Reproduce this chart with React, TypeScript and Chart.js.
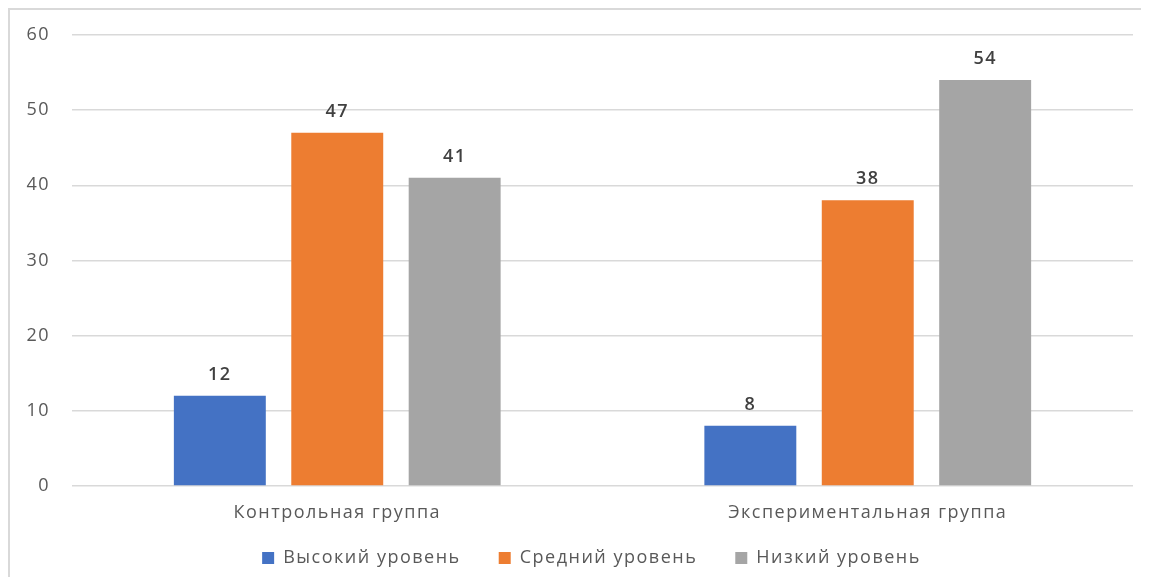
import React, { useEffect, useRef } from "react";
import { Chart, registerables } from "chart.js";

Chart.register(...registerables);

const groups = ["Контрольная группа", "Экспериментальная группа"];
const seriesNames = ["Высокий уровень", "Средний уровень", "Низкий уровень"];
const highLevel = [12, 8];
const midLevel = [47, 38];
const lowLevel = [41, 54];
const seriesColors = ["#4472C4", "#ED7D31", "#A5A5A5"];
const yTicks = [0, 10, 20, 30, 40, 50, 60];

const FONT = "'Open Sans', 'Liberation Sans', sans-serif";
const SPACING = "1.5px";

// Loose tracking for all chart text
const tracking = {
  id: "tracking",
  beforeInit(chart: any) {
    chart.ctx.letterSpacing = SPACING;
  },
  beforeUpdate(chart: any) {
    chart.ctx.letterSpacing = SPACING;
  },
  beforeDraw(chart: any) {
    chart.ctx.letterSpacing = SPACING;
  },
};

// Pulls the legend row up close under the category labels and nudges it right
const legendPlacement = {
  id: "legendPlacement",
  afterLayout(chart: any) {
    const lg = chart.legend;
    if (!lg) return;
    const h = lg.bottom - lg.top;
    lg.top = chart.chartArea.bottom + 25;
    lg.bottom = lg.top + h;
    lg.left += 20;
    lg.right += 20;
  },
};

// Writes each bar's value centred above it
const valueLabels = {
  id: "valueLabels",
  afterDatasetsDraw(chart: any) {
    const ctx = chart.ctx;
    ctx.save();
    ctx.letterSpacing = SPACING;
    ctx.font = `600 18px ${FONT}`;
    ctx.fillStyle = "#404040";
    ctx.textAlign = "center";
    ctx.textBaseline = "middle";
    chart.data.datasets.forEach((ds: any, i: number) => {
      const meta = chart.getDatasetMeta(i);
      meta.data.forEach((bar: any, j: number) => {
        ctx.fillText(String(ds.data[j]), bar.x, bar.y - 21);
      });
    });
    ctx.restore();
  },
};

export default function App() {
  const canvasRef = useRef<HTMLCanvasElement | null>(null);

  useEffect(() => {
    if (!canvasRef.current) return;
    const seriesData = [highLevel, midLevel, lowLevel];
    const chart = new Chart(canvasRef.current, {
      type: "bar",
      data: {
        labels: groups,
        datasets: seriesNames.map((name, i) => ({
          label: name,
          data: seriesData[i],
          backgroundColor: seriesColors[i],
          borderWidth: 0,
          categoryPercentage: 0.664,
          barPercentage: 0.783,
        })),
      },
      options: {
        animation: false,
        responsive: false,
        maintainAspectRatio: false,
        layout: { padding: { top: 25, right: 16, left: 0, bottom: 0 } },
        scales: {
          x: {
            grid: { display: false, drawTicks: false },
            border: { display: false },
            ticks: { color: "#595959", font: { family: FONT, size: 18 }, padding: 16 },
            afterFit(scale: any) {
              scale.height = 48;
            },
          },
          y: {
            min: 0,
            max: 60,
            afterBuildTicks(scale: any) {
              scale.ticks = yTicks.map((v) => ({ value: v }));
            },
            grid: {
              color: "#d9d9d9",
              lineWidth: 1.5,
              drawTicks: true,
              tickLength: 19,
              tickColor: "rgba(0,0,0,0)",
            },
            border: { display: false },
            ticks: { color: "#595959", font: { family: FONT, size: 18 }, padding: 3 },
            afterFit(scale: any) {
              scale.width = 62;
            },
          },
        },
        plugins: {
          legend: {
            position: "bottom",
            labels: {
              boxWidth: 12,
              boxHeight: 12,
              padding: 38,
              color: "#595959",
              font: { family: FONT, size: 18 },
            },
          },
          tooltip: { enabled: false },
        },
      },
      plugins: [tracking, legendPlacement, valueLabels],
    });
    return () => chart.destroy();
  }, []);

  return (
    <div
      style={{
        width: 1133,
        height: 569,
        borderTop: "2px solid #d9d9d9",
        borderLeft: "2px solid #d9d9d9",
        boxSizing: "border-box",
        background: "#fff",
        overflow: "hidden",
      }}
    >
      <canvas ref={canvasRef} width={1139} height={590} style={{ display: "block" }} />
    </div>
  );
}
